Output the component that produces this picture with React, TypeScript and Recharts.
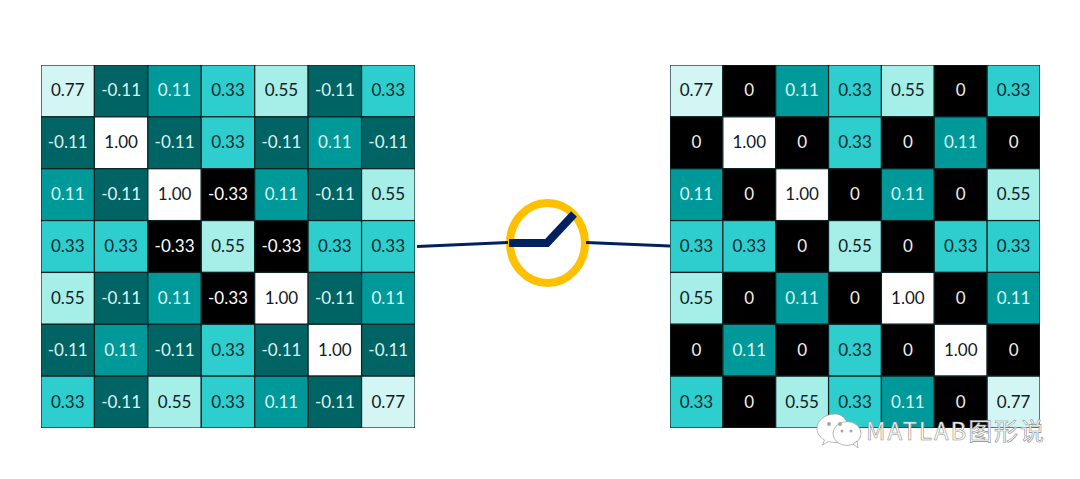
import React from "react";
import { ScatterChart, Scatter, XAxis, YAxis, ZAxis, LineChart, Line } from "recharts";

const inputRows = [
  [0.77, -0.11, 0.11, 0.33, 0.55, -0.11, 0.33],
  [-0.11, 1, -0.11, 0.33, -0.11, 0.11, -0.11],
  [0.11, -0.11, 1, -0.33, 0.11, -0.11, 0.55],
  [0.33, 0.33, -0.33, 0.55, -0.33, 0.33, 0.33],
  [0.55, -0.11, 0.11, -0.33, 1, -0.11, 0.11],
  [-0.11, 0.11, -0.11, 0.33, -0.11, 1, -0.11],
  [0.33, -0.11, 0.55, 0.33, 0.11, -0.11, 0.77],
];
const outputRows = [
  [0.77, 0, 0.11, 0.33, 0.55, 0, 0.33],
  [0, 1, 0, 0.33, 0, 0.11, 0],
  [0.11, 0, 1, 0, 0.11, 0, 0.55],
  [0.33, 0.33, 0, 0.55, 0, 0.33, 0.33],
  [0.55, 0, 0.11, 0, 1, 0, 0.11],
  [0, 0.11, 0, 0.33, 0, 1, 0],
  [0.33, 0, 0.55, 0.33, 0.11, 0, 0.77],
];
const wireIn = [{ x: 417, y: 246.5 }, { x: 508, y: 242.5 }];
const wireOut = [{ x: 586, y: 242.5 }, { x: 670, y: 246 }];
const blade = [{ x: 509, y: 243 }, { x: 547, y: 243 }, { x: 574, y: 214 }];
const switchCentre = [{ x: 547.5, y: 243 }];

const FILL: Record<string, string> = {
  "-0.33": "#000000", "-0.11": "#006464", "0": "#000000", "0.11": "#009999",
  "0.33": "#2ECECE", "0.55": "#A6EEE8", "0.77": "#D3F5F3", "1": "#FFFFFF",
};
const INK: Record<string, string> = {
  "-0.33": "#FFFFFF", "-0.11": "#DDF2F2", "0": "#F2EEE6", "0.11": "#DDF5F5",
  "0.33": "#072A30", "0.55": "#10201F", "0.77": "#14191C", "1": "#14191C",
};

const toCells = (rows: number[][]) =>
  rows.flatMap((row, r) => row.map((v, c) => ({ col: c + 0.5, row: r + 0.5, v })));

function Grid({ rows, left, top, width, height }: any) {
  const cw = width / 7;
  const ch = height / 7;
  const CellShape = (p: any) => {
    const v = p.payload.v;
    const label = v === 0 ? "0" : v.toFixed(2);
    return (
      <g>
        <rect x={p.cx - cw / 2} y={p.cy - ch / 2} width={cw} height={ch} fill={FILL[String(v)]} stroke="#0A2424" strokeWidth={1.2} />
        <text x={p.cx} y={p.cy - 1} textAnchor="middle" dominantBaseline="central" fontFamily="Lato, sans-serif" fontSize={17} fill={INK[String(v)]}>
          {label}
        </text>
      </g>
    );
  };
  return (
    <div style={{ position: "absolute", left, top, width, height, overflow: "visible" }}>
      <ScatterChart width={width} height={height} margin={{ top: 0, right: 0, bottom: 0, left: 0 }} style={{ overflow: "visible" }}>
        <XAxis type="number" dataKey="col" domain={[0, 7]} hide />
        <YAxis type="number" dataKey="row" domain={[0, 7]} reversed hide />
        <ZAxis range={[100, 100]} />
        <Scatter data={toCells(rows)} isAnimationActive={false} shape={CellShape} />
      </ScatterChart>
    </div>
  );
}

const Ring = (p: any) => (
  <ellipse key="ring" cx={p.cx} cy={p.cy} rx={37.5} ry={40} fill="none" stroke="#FFC000" strokeWidth={8} />
);

function Watermark() {
  return (
    <svg width={1080} height={479} style={{ position: "absolute", left: 0, top: 0 }}>
      <g fill="#FFFFFF" stroke="#9A9A9A" strokeWidth={0.7}>
        <path d="M835 414c-10 0-18 6.500-18 14.500 0 5 3 9 7.500 11.500l-2 5 6-3.500c2 .6 4.500 1 6.500 1 5 0 9-1.500 12.500-4.500 3-3 2-24-12.500-24z" />
        <ellipse cx={847} cy={433.500} rx={14} ry={12} />
        <path d="M853 444l5 4-1-7z" />
      </g>
      <g fill="#A8A8A8">
        <circle cx={829} cy={424} r={2} />
        <circle cx={840} cy={424} r={2} />
        <circle cx={842} cy={431} r={1.500} />
        <circle cx={851} cy={431} r={1.500} />
      </g>
      <text x={866} y={440} fontFamily="'Noto Sans CJK SC', 'Noto Sans', sans-serif" fontSize={24} fill="#FFFFFF" stroke="#8F8F8F" strokeWidth={0.6} textLength={178}>
        MATLAB图形说
      </text>
    </svg>
  );
}

const chartMargin = { top: 0, right: 0, bottom: 0, left: 0 };

export default function App() {
  return (
    <div style={{ position: "absolute", left: 0, top: 0, width: 1080, height: 479, background: "#FFFFFF", overflow: "hidden" }}>
      <Grid rows={inputRows} left={41} top={65} width={374} height={363} />
      <Grid rows={outputRows} left={670} top={65} width={370} height={363} />
      <div style={{ position: "absolute", left: 0, top: 0 }}>
        <LineChart width={1080} height={479} margin={chartMargin}>
          <XAxis type="number" dataKey="x" domain={[0, 1080]} hide />
          <YAxis type="number" dataKey="y" domain={[0, 479]} reversed hide />
          <Line data={switchCentre} dataKey="y" stroke="none" dot={Ring} isAnimationActive={false} />
        </LineChart>
      </div>
      <div style={{ position: "absolute", left: 0, top: 0 }}>
        <LineChart width={1080} height={479} margin={chartMargin}>
          <XAxis type="number" dataKey="x" domain={[0, 1080]} hide />
          <YAxis type="number" dataKey="y" domain={[0, 479]} reversed hide />
          <Line data={wireIn} dataKey="y" stroke="#002060" strokeWidth={3} dot={false} isAnimationActive={false} />
          <Line data={wireOut} dataKey="y" stroke="#002060" strokeWidth={3} dot={false} isAnimationActive={false} />
          <Line data={blade} dataKey="y" stroke="#002060" strokeWidth={8} dot={false} strokeLinejoin="miter" strokeLinecap="butt" isAnimationActive={false} />
        </LineChart>
      </div>
      <Watermark />
    </div>
  );
}
